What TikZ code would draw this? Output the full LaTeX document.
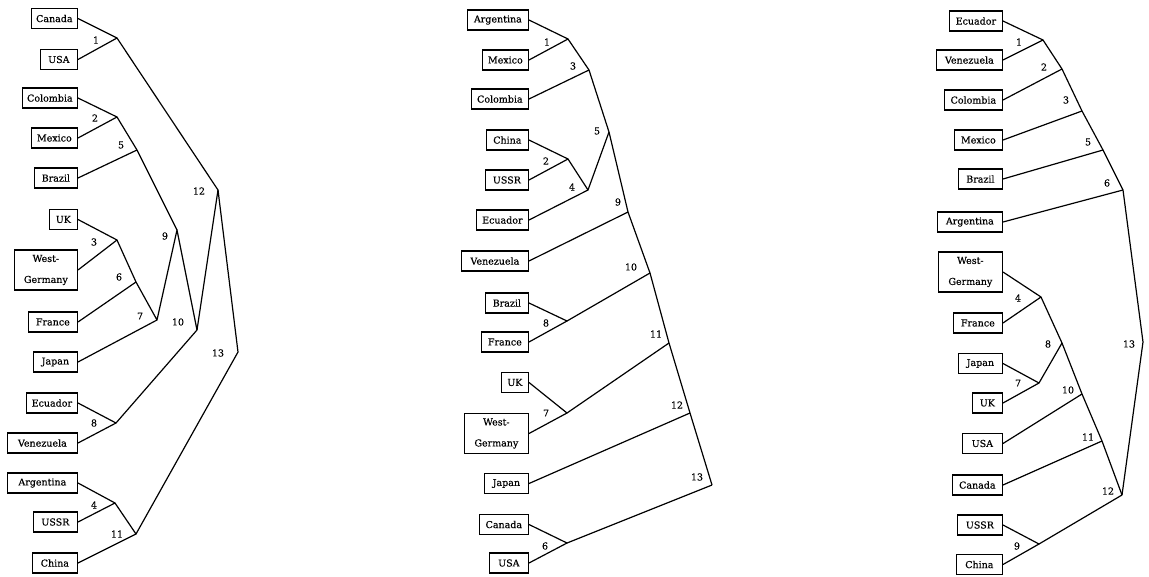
\documentclass[tikz,border=0pt]{standalone}
\usepackage{fontspec}
\setmainfont{DejaVu Serif}
\newfontfamily\dgfont[FakeBold=0.35]{DejaVu Serif}
\begin{document}
\begin{tikzpicture}[x=1pt,y=-1pt,
  cbox/.style={draw,line width=1.25pt,anchor=east,minimum height=20pt,inner sep=1pt,font=\dgfont\fontsize{9.5}{11}\selectfont},
  tbox/.style={cbox,minimum height=40pt,align=center,font=\dgfont\fontsize{9.5}{21}\selectfont},
  num/.style={inner sep=0pt,font=\dgfont\fontsize{9.5}{10}\selectfont},
  link/.style={line width=1.2pt,line join=round}]
\useasboundingbox (0,0) rectangle (1149,576);

% ================= Panel 1 =================
\node[cbox,minimum width=46pt] (aCanada) at (78,18.5) {Canada};
\node[cbox,minimum width=37pt] (aUSA) at (78,59.5) {USA};
\node[cbox,minimum width=55pt] (aColombia) at (78,98) {Colombia};
\node[cbox,minimum width=46pt] (aMexico) at (78,138) {Mexico};
\node[cbox,minimum width=43pt] (aBrazil) at (78,178) {Brazil};
\node[cbox,minimum width=28pt] (aUK) at (78,219.5) {UK};
\node[tbox,minimum width=63pt] (aWG) at (78,270) {West-\\Germany};
\node[cbox,minimum width=49pt] (aFrance) at (78,322) {France};
\node[cbox,minimum width=44pt] (aJapan) at (78,362) {Japan};
\node[cbox,minimum width=51pt] (aEcuador) at (78,403) {Ecuador};
\node[cbox,minimum width=70pt] (aVenezuela) at (78,443) {Venezuela};
\node[cbox,minimum width=70pt] (aArgentina) at (78,483) {Argentina};
\node[cbox,minimum width=44pt] (aUSSR) at (78,522) {USSR};
\node[cbox,minimum width=45pt] (aChina) at (78,563) {China};

\coordinate (a1) at (117,38);
\coordinate (a2) at (117,117);
\coordinate (a5) at (137,150);
\coordinate (a12) at (218,190);
\coordinate (a3) at (117,240);
\coordinate (a6) at (136,282);
\coordinate (a9) at (177,230);
\coordinate (a7) at (157,320);
\coordinate (a10) at (197,330);
\coordinate (a13) at (238,352);
\coordinate (a8) at (116,423);
\coordinate (a4) at (115,503);
\coordinate (a11) at (136,534);

\node[num] (la1) at (96,40) {1};
\node[num] (la2) at (95,118) {2};
\node[num] (la5) at (121,145) {5};
\node[num] (la12) at (199,191) {12};
\node[num] (la3) at (94,242) {3};
\node[num] (la6) at (119,277) {6};
\node[num] (la9) at (165,236) {9};
\node[num] (la7) at (140,316) {7};
\node[num] (la10) at (178,322) {10};
\node[num] (la13) at (218,353) {13};
\node[num] (la8) at (94,423) {8};
\node[num] (la4) at (94,505) {4};
\node[num] (la11) at (117,534) {11};

\draw[link] (aCanada.east) -- (a1) -- (aUSA.east);
\draw[link] (a1) -- (a12) -- (a10);
\draw[link] (aColombia.east) -- (a2) -- (aMexico.east);
\draw[link] (a2) -- (a5) -- (a9);
\draw[link] (aBrazil.east) -- (a5);
\draw[link] (aUK.east) -- (a3) -- (aWG.east);
\draw[link] (a3) -- (a6) -- (a7) -- (a9) -- (a10);
\draw[link] (aFrance.east) -- (a6);
\draw[link] (aJapan.east) -- (a7);
\draw[link] (aEcuador.east) -- (a8) -- (aVenezuela.east);
\draw[link] (a8) -- (a10);
\draw[link] (a12) -- (a13) -- (a11);
\draw[link] (aArgentina.east) -- (a4) -- (aUSSR.east);
\draw[link] (a4) -- (a11) -- (aChina.east);

% ================= Panel 2 =================
\node[cbox,minimum width=61pt] (bArgentina) at (529,20) {Argentina};
\node[cbox,minimum width=46pt] (bMexico) at (529,60) {Mexico};
\node[cbox,minimum width=57pt] (bColombia) at (529,99) {Colombia};
\node[cbox,minimum width=42pt] (bChina) at (529,140) {China};
\node[cbox,minimum width=43pt] (bUSSR) at (529,180) {USSR};
\node[cbox,minimum width=52pt] (bEcuador) at (529,220) {Ecuador};
\node[cbox,minimum width=67pt] (bVenezuela) at (529,261) {Venezuela};
\node[cbox,minimum width=43pt] (bBrazil) at (529,303) {Brazil};
\node[cbox,minimum width=47pt] (bFrance) at (529,342) {France};
\node[cbox,minimum width=27pt] (bUK) at (529,382.5) {UK};
\node[tbox,minimum width=64pt] (bWG) at (529,433.5) {West-\\Germany};
\node[cbox,minimum width=44pt] (bJapan) at (529,483.5) {Japan};
\node[cbox,minimum width=49pt] (bCanada) at (529,524.5) {Canada};
\node[cbox,minimum width=39pt] (bUSA) at (529,563) {USA};

\coordinate (b1) at (568,39);
\coordinate (b3) at (589,70);
\coordinate (b5) at (609,132);
\coordinate (b2) at (568,159);
\coordinate (b4) at (588,190);
\coordinate (b9) at (628,212);
\coordinate (b10) at (650,273);
\coordinate (b8) at (567,321);
\coordinate (b11) at (669,343);
\coordinate (b7) at (567,413);
\coordinate (b12) at (690,413);
\coordinate (b13) at (712,485);
\coordinate (b6) at (567,543);

\node[num] (lb1) at (547,42) {1};
\node[num] (lb3) at (573,66) {3};
\node[num] (lb5) at (597,131) {5};
\node[num] (lb2) at (546,161) {2};
\node[num] (lb4) at (572,187) {4};
\node[num] (lb9) at (618,202) {9};
\node[num] (lb10) at (631,267) {10};
\node[num] (lb8) at (546,323) {8};
\node[num] (lb11) at (656,334) {11};
\node[num] (lb7) at (546,413) {7};
\node[num] (lb12) at (677,405) {12};
\node[num] (lb13) at (697,477) {13};
\node[num] (lb6) at (545,546) {6};

\draw[link] (bArgentina.east) -- (b1) -- (bMexico.east);
\draw[link] (b1) -- (b3) -- (b5) -- (b9) -- (b10) -- (b11) -- (b12) -- (b13);
\draw[link] (bColombia.east) -- (b3);
\draw[link] (bChina.east) -- (b2) -- (bUSSR.east);
\draw[link] (b2) -- (b4) -- (b5);
\draw[link] (bEcuador.east) -- (b4);
\draw[link] (bVenezuela.east) -- (b9);
\draw[link] (bBrazil.east) -- (b8) -- (bFrance.east);
\draw[link] (b8) -- (b10);
\draw[link] (bUK.east) -- (b7) -- (bWG.east);
\draw[link] (b7) -- (b11);
\draw[link] (bJapan.east) -- (b12);
\draw[link] (bCanada.east) -- (b6) -- (bUSA.east);
\draw[link] (b6) -- (b13);

% ================= Panel 3 =================
\node[cbox,minimum width=53pt] (cEcuador) at (1003,21) {Ecuador};
\node[cbox,minimum width=66pt] (cVenezuela) at (1003,60) {Venezuela};
\node[cbox,minimum width=58pt] (cColombia) at (1003,100) {Colombia};
\node[cbox,minimum width=48pt] (cMexico) at (1003,140) {Mexico};
\node[cbox,minimum width=44pt] (cBrazil) at (1003,179) {Brazil};
\node[cbox,minimum width=65pt] (cArgentina) at (1003,222) {Argentina};
\node[tbox,minimum width=64pt] (cWG) at (1003,272) {West-\\Germany};
\node[cbox,minimum width=49pt] (cFrance) at (1003,323) {France};
\node[cbox,minimum width=44pt] (cJapan) at (1003,363.5) {Japan};
\node[cbox,minimum width=30pt] (cUK) at (1003,403) {UK};
\node[cbox,minimum width=40pt] (cUSA) at (1003,443.5) {USA};
\node[cbox,minimum width=50pt] (cCanada) at (1003,485) {Canada};
\node[cbox,minimum width=45pt] (cUSSR) at (1003,525) {USSR};
\node[cbox,minimum width=46pt] (cChina) at (1003,564.5) {China};

\coordinate (c1) at (1043,40);
\coordinate (c2) at (1062,69);
\coordinate (c3) at (1082,111);
\coordinate (c5) at (1103,150);
\coordinate (c6) at (1123,190);
\coordinate (c4) at (1041,297);
\coordinate (c8) at (1062,343);
\coordinate (c13) at (1143,342);
\coordinate (c7) at (1039,383);
\coordinate (c10) at (1082,394);
\coordinate (c11) at (1102,441);
\coordinate (c12) at (1122,495);
\coordinate (c9) at (1039,544);

\node[num] (lc1) at (1019,42) {1};
\node[num] (lc2) at (1044,67) {2};
\node[num] (lc3) at (1066,100) {3};
\node[num] (lc5) at (1088,142) {5};
\node[num] (lc6) at (1107,183) {6};
\node[num] (lc4) at (1018,298) {4};
\node[num] (lc8) at (1048,344) {8};
\node[num] (lc13) at (1129,344) {13};
\node[num] (lc7) at (1018,383) {7};
\node[num] (lc10) at (1068,390) {10};
\node[num] (lc11) at (1088,437) {11};
\node[num] (lc12) at (1108,491) {12};
\node[num] (lc9) at (1017,546) {9};

\draw[link] (cEcuador.east) -- (c1) -- (cVenezuela.east);
\draw[link] (c1) -- (c2) -- (c3) -- (c5) -- (c6) -- (c13) -- (c12);
\draw[link] (cColombia.east) -- (c2);
\draw[link] (cMexico.east) -- (c3);
\draw[link] (cBrazil.east) -- (c5);
\draw[link] (cArgentina.east) -- (c6);
\draw[link] (cWG.east) -- (c4) -- (cFrance.east);
\draw[link] (c4) -- (c8) -- (c10) -- (c11) -- (c12);
\draw[link] (cJapan.east) -- (c7) -- (cUK.east);
\draw[link] (c7) -- (c8);
\draw[link] (cUSA.east) -- (c10);
\draw[link] (cCanada.east) -- (c11);
\draw[link] (cUSSR.east) -- (c9) -- (cChina.east);
\draw[link] (c9) -- (c12);
\end{tikzpicture}
\end{document}
